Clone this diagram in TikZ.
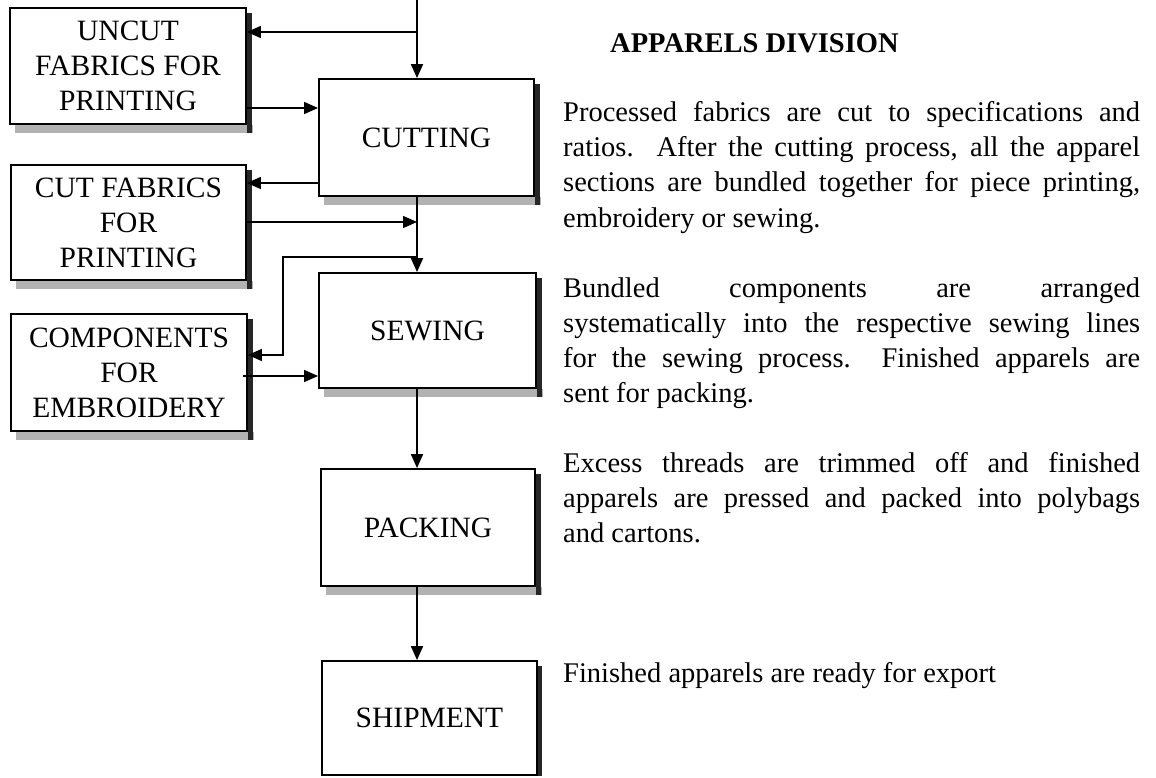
\documentclass[tikz,border=0pt]{standalone}
\usepackage{fontspec}
\setmainfont{Liberation Serif}
\usetikzlibrary{arrows.meta,backgrounds}
\begin{document}
\begin{tikzpicture}[x=1pt,y=-1pt,
  box/.style={draw,line width=1.8pt,fill=white,inner sep=0pt,align=center,font=\fontsize{29.5}{35}\selectfont},
  conn/.style={line width=1.4pt,-{Triangle[length=14pt,width=12pt]}},
  txt/.style={anchor=base west,inner sep=0pt,font=\fontsize{28.5}{35}\selectfont},
  ttl/.style={anchor=base west,inner sep=0pt,font=\fontsize{28.5}{35}\selectfont\bfseries}]
\useasboundingbox (0,0) rectangle (1156,778);

% boxes
\node[box,minimum width=236pt,minimum height=116pt] (uncut) at (128,66) {UNCUT\\FABRICS FOR\\PRINTING};
\node[box,minimum width=235pt,minimum height=115pt] (cutfab) at (128.5,222.5) {CUT FABRICS\\FOR\\PRINTING};
\node[box,minimum width=236pt,minimum height=117pt] (comp) at (129,372.5) {COMPONENTS\\FOR\\EMBROIDERY};
\node[box,minimum width=215pt,minimum height=117pt] (cutting) at (426.5,137.5) {CUTTING};
\node[box,minimum width=217pt,minimum height=115pt] (sewing) at (427.5,330.5) {SEWING};
\node[box,minimum width=214pt,minimum height=117pt] (packing) at (428,527.5) {PACKING};
\node[box,minimum width=215pt,minimum height=114pt] (shipment) at (429.5,718) {SHIPMENT};

% shadows
\begin{scope}[on background layer]
\foreach \n in {uncut,cutfab,comp,cutting,sewing,packing}{
  \fill[gray!60] ([xshift=6pt]\n.south west) rectangle ([shift={(6,8)}]\n.south east);
  \fill[black!85] ([shift={(0,6)}]\n.north east) rectangle ([shift={(5,8)}]\n.south east);
}
\fill[black!85] ([shift={(0,6)}]shipment.north east) rectangle ([shift={(4,0)}]shipment.south east);
\end{scope}

% connectors
\coordinate (top) at (417,0);
\coordinate (a1) at (417,32);
\coordinate (a2) at (300,108);
\coordinate (a3) at (300,183);
\coordinate (a4) at (417,222);
\coordinate (a5) at (417,257);
\coordinate (a6) at (283,257);
\coordinate (a7) at (283,355);
\coordinate (a8) at (300,376);

\draw[conn,line width=1.8pt] (top) -- (top |- cutting.north);
\draw[conn] (a1) -- (a1 -| uncut.east);
\draw[conn] (a2 -| uncut.east) -- (a2 -| cutting.west);
\draw[conn] (a3 -| cutting.west) -- (a3 -| cutfab.east);
\draw[conn,line width=1.8pt] (top |- cutting.south) -- (top |- sewing.north);
\draw[conn] (a4 -| cutfab.east) -- (a4);
\draw[conn] (a5) -- (a6) -- (a7) -- (a7 -| comp.east);
\draw[conn] ([xshift=-5pt]a8 -| comp.east) -- (a8 -| sewing.west);
\draw[conn,line width=1.8pt] (top |- sewing.south) -- (top |- packing.north);
\draw[conn,line width=1.8pt] (top |- packing.south) -- (top |- shipment.north);

% text
\node[ttl] (title) at (610,53) {APPARELS DIVISION};
\node[txt] (l1) at (563,122) {\hbox to 577pt{Processed fabrics are cut to specifications and}};
\node[txt] (l2) at (563,157) {\hbox to 577pt{ratios.\ \ After the cutting process, all the apparel}};
\node[txt] (l3) at (563,192) {\hbox to 577pt{sections are bundled together for piece printing,}};
\node[txt] (l4) at (563,227) {embroidery or sewing.};
\node[txt] (l5) at (563,297) {\hbox to 577pt{Bundled components are arranged}};
\node[txt] (l6) at (563,332) {\hbox to 577pt{systematically into the respective sewing lines}};
\node[txt] (l7) at (563,367) {\hbox to 577pt{for the sewing process.\ \ Finished apparels are}};
\node[txt] (l8) at (563,402) {sent for packing.};
\node[txt] (l9) at (563,472) {\hbox to 577pt{Excess threads are trimmed off and finished}};
\node[txt] (l10) at (563,507) {\hbox to 577pt{apparels are pressed and packed into polybags}};
\node[txt] (l11) at (563,542) {and cartons.};
\node[txt] (l12) at (563,682) {Finished apparels are ready for export};
\end{tikzpicture}
\end{document}
